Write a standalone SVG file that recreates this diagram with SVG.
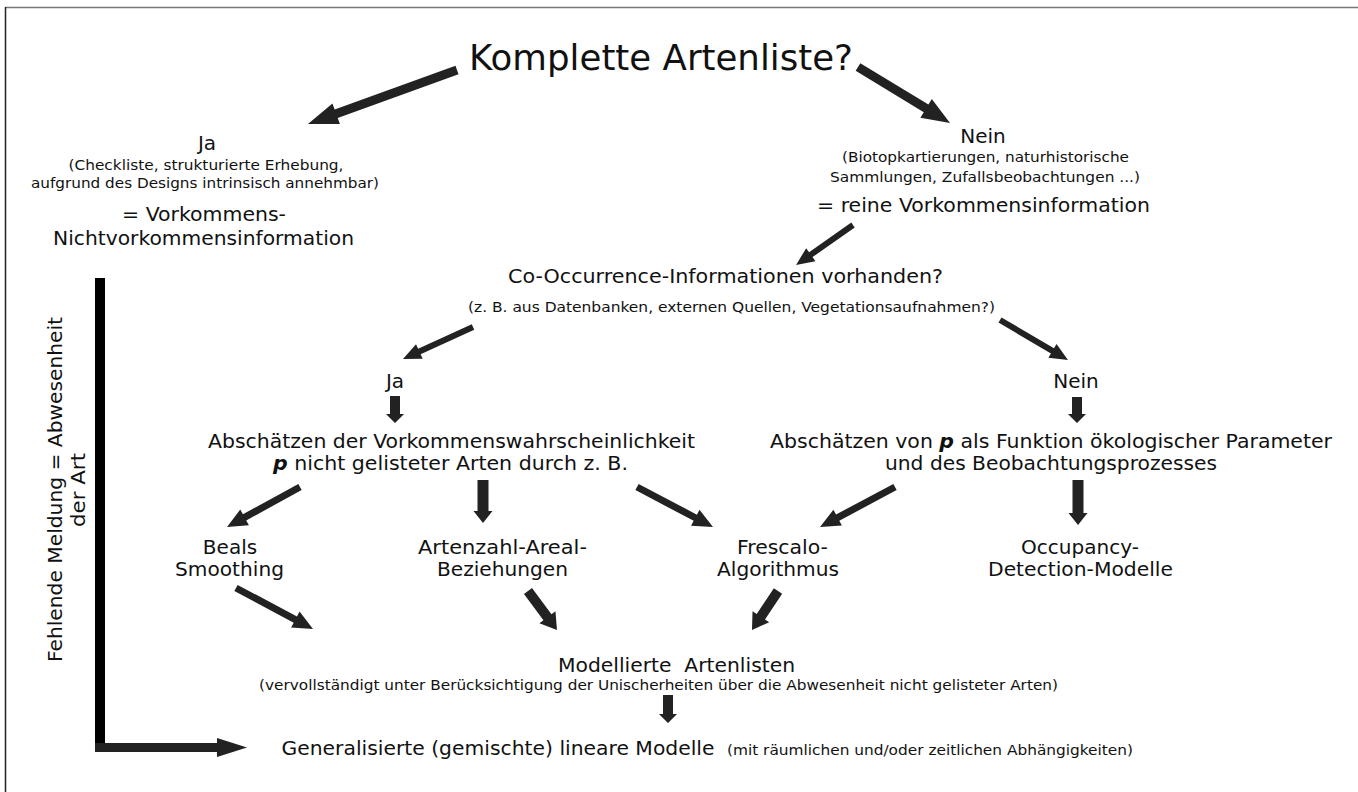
<svg xmlns="http://www.w3.org/2000/svg" width="1358" height="792" viewBox="0 0 1358 792">
<style>
text{font-family:"DejaVu Sans","Verdana",sans-serif;fill:#111;}
.t{font-size:20px;text-anchor:middle;}
.s{font-size:14px;text-anchor:middle;}
.big{font-size:36px;text-anchor:middle;}
.arr{fill:#222;}
</style>
<rect width="1358" height="792" fill="#fff"/>
<line x1="5" y1="7.5" x2="1358" y2="7.5" stroke="#777" stroke-width="1.5"/>
<line x1="5.5" y1="7" x2="5.5" y2="792" stroke="#222" stroke-width="1.5"/>

<g id="connectors">
<path class="arr" transform="translate(457,70) rotate(160.1)" d="M0,-4.5H128.5V-11L158.5,0L128.5,11V4.5H0Z"/>
<path class="arr" transform="translate(858,67) rotate(31.3)" d="M0,-4.5H79.7V-11L107.7,0L79.7,11V4.5H0Z"/>
<path class="arr" transform="translate(853,225) rotate(144.9)" d="M0,-3H51.6V-8L69.6,0L51.6,8V3H0Z"/>
<path class="arr" transform="translate(473,327) rotate(155.4)" d="M0,-3H59V-8L77,0L59,8V3H0Z"/>
<path class="arr" transform="translate(1000,320) rotate(30.5)" d="M0,-3H60.9V-8L78.9,0L60.9,8V3H0Z"/>
<path class="arr" transform="translate(395,396) rotate(90)" d="M0,-5H18V-9L27,0L18,9V5H0Z"/>
<path class="arr" transform="translate(1077,397) rotate(90)" d="M0,-5H17V-9L26,0L17,9V5H0Z"/>
<path class="arr" transform="translate(300,487) rotate(151.3)" d="M0,-3.5H63.2V-9L83.2,0L63.2,9V3.5H0Z"/>
<path class="arr" transform="translate(483,480) rotate(90)" d="M0,-5.5H31V-9.5L43,0L31,9.5V5.5H0Z"/>
<path class="arr" transform="translate(637,487) rotate(27.8)" d="M0,-3.5H65.9V-9L85.9,0L65.9,9V3.5H0Z"/>
<path class="arr" transform="translate(895,487) rotate(151.9)" d="M0,-3.5H65V-9L85,0L65,9V3.5H0Z"/>
<path class="arr" transform="translate(1078,480) rotate(90)" d="M0,-5.5H33V-9.5L45,0L33,9.5V5.5H0Z"/>
<path class="arr" transform="translate(236,588) rotate(28)" d="M0,-3.5H67.2V-9L87.2,0L67.2,9V3.5H0Z"/>
<path class="arr" transform="translate(528,591) rotate(53.4)" d="M0,-5H32.6V-10L48.6,0L32.6,10V5H0Z"/>
<path class="arr" transform="translate(778,591) rotate(123.7)" d="M0,-5H30.9V-10L46.9,0L30.9,10V5H0Z"/>
<path class="arr" transform="translate(668,695) rotate(90)" d="M0,-5H19V-9L28,0L19,9V5H0Z"/>
<rect x="95" y="278" width="10" height="474" fill="#000"/>
<rect x="95" y="743" width="122" height="9" fill="#222"/>
<polygon class="arr" points="217,738 247,747.5 217,757"/>
</g>

<g id="n-title"><text class="big" x="661" y="70" textLength="384" lengthAdjust="spacingAndGlyphs">Komplette Artenliste?</text></g>

<g id="n-ja1">
<text class="t" x="207" y="150" font-size="19">Ja</text>
<text class="s" x="206" y="170" textLength="275" lengthAdjust="spacingAndGlyphs">(Checkliste, strukturierte Erhebung,</text>
<text class="s" x="205" y="188" textLength="348" lengthAdjust="spacingAndGlyphs">aufgrund des Designs intrinsisch annehmbar)</text>
<text class="t" x="204" y="221" textLength="164" lengthAdjust="spacingAndGlyphs">= Vorkommens-</text>
<text class="t" x="203.5" y="245" textLength="301" lengthAdjust="spacingAndGlyphs">Nichtvorkommensinformation</text>
</g>

<g id="n-nein1">
<text class="t" x="983" y="143" font-size="19">Nein</text>
<text class="s" x="985.5" y="162" textLength="287" lengthAdjust="spacingAndGlyphs">(Biotopkartierungen, naturhistorische</text>
<text class="s" x="985" y="182" textLength="310" lengthAdjust="spacingAndGlyphs">Sammlungen, Zufallsbeobachtungen ...)</text>
<text class="t" x="983.5" y="212" textLength="333" lengthAdjust="spacingAndGlyphs">= reine Vorkommensinformation</text>
</g>

<g id="n-cooc">
<text class="t" x="725.5" y="283" textLength="435" lengthAdjust="spacingAndGlyphs">Co-Occurrence-Informationen vorhanden?</text>
<text class="s" x="731.5" y="312" textLength="527" lengthAdjust="spacingAndGlyphs">(z. B. aus Datenbanken, externen Quellen, Vegetationsaufnahmen?)</text>
</g>

<g id="n-ja2"><text class="t" x="395" y="388" font-size="19">Ja</text></g>
<g id="n-nein2"><text class="t" x="1076" y="388" font-size="19">Nein</text></g>

<g id="n-est1">
<text class="t" x="451.5" y="447.5" textLength="487" lengthAdjust="spacingAndGlyphs">Abschätzen der Vorkommenswahrscheinlichkeit</text>
<text class="t" x="450.5" y="470" textLength="355" lengthAdjust="spacingAndGlyphs"><tspan font-weight="bold" font-style="italic">p</tspan> nicht gelisteter Arten durch z. B.</text>
</g>

<g id="n-est2">
<text class="t" x="1051" y="447.5" textLength="562" lengthAdjust="spacingAndGlyphs">Abschätzen von <tspan font-weight="bold" font-style="italic">p</tspan> als Funktion ökologischer Parameter</text>
<text class="t" x="1051" y="470" textLength="332" lengthAdjust="spacingAndGlyphs">und des Beobachtungsprozesses</text>
</g>

<g id="n-beals">
<text class="t" x="230" y="554">Beals</text>
<text class="t" x="229.5" y="576" textLength="109" lengthAdjust="spacingAndGlyphs">Smoothing</text>
</g>

<g id="n-artenzahl">
<text class="t" x="502.5" y="554" textLength="169" lengthAdjust="spacingAndGlyphs">Artenzahl-Areal-</text>
<text class="t" x="502.5" y="576" textLength="131" lengthAdjust="spacingAndGlyphs">Beziehungen</text>
</g>

<g id="n-frescalo">
<text class="t" x="782.5" y="554" textLength="91" lengthAdjust="spacingAndGlyphs">Frescalo-</text>
<text class="t" x="778" y="576" textLength="122" lengthAdjust="spacingAndGlyphs">Algorithmus</text>
</g>

<g id="n-occupancy">
<text class="t" x="1080" y="554" textLength="118" lengthAdjust="spacingAndGlyphs">Occupancy-</text>
<text class="t" x="1080.5" y="576" textLength="185" lengthAdjust="spacingAndGlyphs">Detection-Modelle</text>
</g>

<g id="n-modelliert">
<text class="t" x="676.5" y="672" textLength="237" lengthAdjust="spacingAndGlyphs">Modellierte&#160; Artenlisten</text>
<text class="s" x="658.5" y="690" textLength="799" lengthAdjust="spacingAndGlyphs">(vervollständigt unter Berücksichtigung der Unischerheiten über die Abwesenheit nicht gelisteter Arten)</text>
</g>

<g id="n-glm">
<text class="t" x="498" y="755" textLength="433" lengthAdjust="spacingAndGlyphs">Generalisierte (gemischte) lineare Modelle</text>
<text x="727" y="755" font-size="14" textLength="406" lengthAdjust="spacingAndGlyphs">(mit räumlichen und/oder zeitlichen Abhängigkeiten)</text>
</g>

<g id="n-side">
<text class="t" transform="translate(62,489.5) rotate(-90)" textLength="345" lengthAdjust="spacingAndGlyphs">Fehlende Meldung = Abwesenheit</text>
<text class="t" transform="translate(85,490) rotate(-90)" textLength="74" lengthAdjust="spacingAndGlyphs">der Art</text>
</g>
</svg>
